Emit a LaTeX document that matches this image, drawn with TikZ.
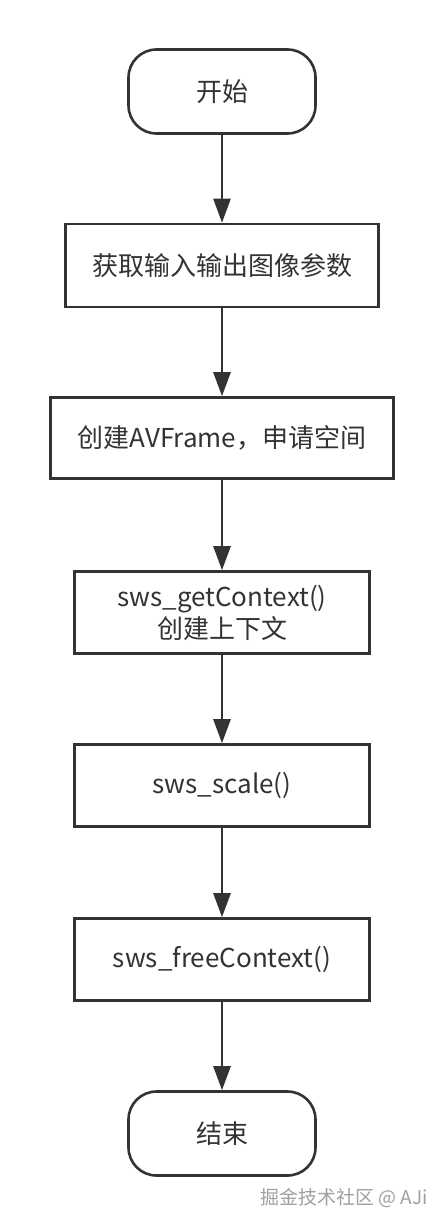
\documentclass[tikz,border=0pt]{standalone}
\usepackage{fontspec}
\setmainfont{Noto Sans CJK SC}
\usetikzlibrary{arrows.meta}
\definecolor{ink}{HTML}{333333}
\definecolor{wm}{HTML}{A0A0A0}
\begin{document}
\begin{tikzpicture}[x=1pt,y=-1pt,
  base/.style={draw=ink,line width=2.6pt,fill=white,text=ink,inner sep=0pt,
    font=\fontsize{26}{32}\selectfont,align=center},
  term/.style={base,rounded corners=28pt,minimum width=187pt,minimum height=84pt},
  proc/.style={base,minimum width=295pt,minimum height=82pt},
  link/.style={draw=ink,line width=2.6pt,-{Triangle[length=24pt,width=17pt]}}]
\useasboundingbox (0,0) rectangle (444,1225);
\fill[white] (0,0) rectangle (444,1225);
\node[term] (start) at (222,91.5) {开始};
\node[proc,minimum width=313pt,minimum height=83pt] (p1) at (222,265.5) {获取输入输出图像参数};
\node[proc,minimum width=343pt,minimum height=81pt] (p2) at (222,438) {创建AVFrame，申请空间};
\node[proc] (p3) at (222,612.5) {sws\_getContext()\\创建上下文};
\node[proc] (p4) at (222,785.5) {sws\_scale()};
\node[proc] (p5) at (222,959.5) {sws\_freeContext()};
\node[term] (end) at (222,1133.5) {结束};
\draw[link] (start) -- (p1);
\draw[link] (p1) -- (p2);
\draw[link] (p2) -- (p3);
\draw[link] (p3) -- (p4);
\draw[link] (p4) -- (p5);
\draw[link] (p5) -- (end);
\node[text=wm,font=\fontsize{19}{22}\selectfont,anchor=east,inner sep=0pt] (wmk) at (428,1198) {掘金技术社区 @ AJi};
\end{tikzpicture}
\end{document}
